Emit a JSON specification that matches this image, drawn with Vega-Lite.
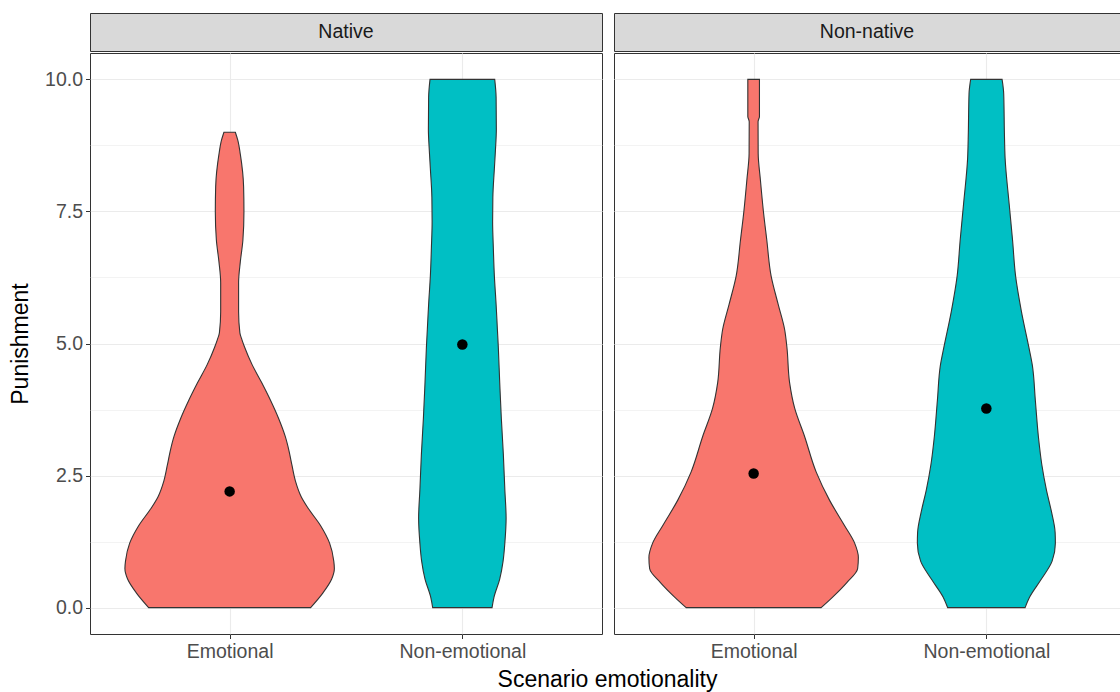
{
  "$schema": "https://vega.github.io/schema/vega-lite/v6.json",
  "padding": {"left": 8, "top": 12, "right": 0, "bottom": 0},
  "background": "white",
  "spacing": 10,
  "config": {
    "font": "Liberation Sans",
    "view": {"stroke": "#333333", "strokeWidth": 1},
    "axis": {"labelFont": "Liberation Sans", "labelFontSize": 19.5, "labelColor": "#4D4D4D", "tickColor": "#333333", "tickWidth": 1, "tickSize": 4.5, "domain": false, "gridColor": "#EBEBEB", "gridWidth": 1.1, "titleFont": "Liberation Sans", "titleFontWeight": "normal", "titleColor": "black", "titleFontSize": 23}
  },
  "datasets": {
    "violins": [
      {"panel": "Native", "cat": "Emotional", "v": 0.0, "w": 0.696},
      {"panel": "Native", "cat": "Emotional", "v": 0.27, "w": 0.799},
      {"panel": "Native", "cat": "Emotional", "v": 0.54, "w": 0.877},
      {"panel": "Native", "cat": "Emotional", "v": 0.74, "w": 0.9},
      {"panel": "Native", "cat": "Emotional", "v": 0.88, "w": 0.895},
      {"panel": "Native", "cat": "Emotional", "v": 1.22, "w": 0.859},
      {"panel": "Native", "cat": "Emotional", "v": 1.55, "w": 0.782},
      {"panel": "Native", "cat": "Emotional", "v": 1.89, "w": 0.672},
      {"panel": "Native", "cat": "Emotional", "v": 2.1, "w": 0.615},
      {"panel": "Native", "cat": "Emotional", "v": 2.4, "w": 0.565},
      {"panel": "Native", "cat": "Emotional", "v": 2.7, "w": 0.535},
      {"panel": "Native", "cat": "Emotional", "v": 2.95, "w": 0.512},
      {"panel": "Native", "cat": "Emotional", "v": 3.24, "w": 0.478},
      {"panel": "Native", "cat": "Emotional", "v": 3.58, "w": 0.421},
      {"panel": "Native", "cat": "Emotional", "v": 3.92, "w": 0.352},
      {"panel": "Native", "cat": "Emotional", "v": 4.26, "w": 0.275},
      {"panel": "Native", "cat": "Emotional", "v": 4.6, "w": 0.193},
      {"panel": "Native", "cat": "Emotional", "v": 4.93, "w": 0.129},
      {"panel": "Native", "cat": "Emotional", "v": 5.07, "w": 0.106},
      {"panel": "Native", "cat": "Emotional", "v": 5.2, "w": 0.088},
      {"panel": "Native", "cat": "Emotional", "v": 5.6, "w": 0.077},
      {"panel": "Native", "cat": "Emotional", "v": 6.15, "w": 0.077},
      {"panel": "Native", "cat": "Emotional", "v": 6.55, "w": 0.092},
      {"panel": "Native", "cat": "Emotional", "v": 6.96, "w": 0.114},
      {"panel": "Native", "cat": "Emotional", "v": 7.5, "w": 0.123},
      {"panel": "Native", "cat": "Emotional", "v": 7.97, "w": 0.12},
      {"panel": "Native", "cat": "Emotional", "v": 8.58, "w": 0.092},
      {"panel": "Native", "cat": "Emotional", "v": 8.85, "w": 0.07},
      {"panel": "Native", "cat": "Emotional", "v": 9.0, "w": 0.049},

      {"panel": "Native", "cat": "Non-emotional", "v": 0.0, "w": 0.255},
      {"panel": "Native", "cat": "Non-emotional", "v": 0.2, "w": 0.272},
      {"panel": "Native", "cat": "Non-emotional", "v": 0.54, "w": 0.321},
      {"panel": "Native", "cat": "Non-emotional", "v": 0.88, "w": 0.35},
      {"panel": "Native", "cat": "Non-emotional", "v": 1.22, "w": 0.365},
      {"panel": "Native", "cat": "Non-emotional", "v": 1.69, "w": 0.376},
      {"panel": "Native", "cat": "Non-emotional", "v": 2.23, "w": 0.365},
      {"panel": "Native", "cat": "Non-emotional", "v": 2.91, "w": 0.352},
      {"panel": "Native", "cat": "Non-emotional", "v": 3.58, "w": 0.335},
      {"panel": "Native", "cat": "Non-emotional", "v": 4.26, "w": 0.321},
      {"panel": "Native", "cat": "Non-emotional", "v": 4.93, "w": 0.309},
      {"panel": "Native", "cat": "Non-emotional", "v": 5.27, "w": 0.301},
      {"panel": "Native", "cat": "Non-emotional", "v": 5.74, "w": 0.29},
      {"panel": "Native", "cat": "Non-emotional", "v": 6.28, "w": 0.275},
      {"panel": "Native", "cat": "Non-emotional", "v": 6.82, "w": 0.266},
      {"panel": "Native", "cat": "Non-emotional", "v": 7.3, "w": 0.26},
      {"panel": "Native", "cat": "Non-emotional", "v": 7.77, "w": 0.262},
      {"panel": "Native", "cat": "Non-emotional", "v": 8.31, "w": 0.275},
      {"panel": "Native", "cat": "Non-emotional", "v": 8.65, "w": 0.284},
      {"panel": "Native", "cat": "Non-emotional", "v": 9.05, "w": 0.292},
      {"panel": "Native", "cat": "Non-emotional", "v": 9.66, "w": 0.29},
      {"panel": "Native", "cat": "Non-emotional", "v": 10.0, "w": 0.278},

      {"panel": "Non-native", "cat": "Emotional", "v": 0.0, "w": 0.58},
      {"panel": "Non-native", "cat": "Emotional", "v": 0.2, "w": 0.679},
      {"panel": "Non-native", "cat": "Emotional", "v": 0.47, "w": 0.799},
      {"panel": "Non-native", "cat": "Emotional", "v": 0.74, "w": 0.894},
      {"panel": "Non-native", "cat": "Emotional", "v": 0.95, "w": 0.9},
      {"panel": "Non-native", "cat": "Emotional", "v": 1.22, "w": 0.868},
      {"panel": "Non-native", "cat": "Emotional", "v": 1.55, "w": 0.782},
      {"panel": "Non-native", "cat": "Emotional", "v": 2.03, "w": 0.653},
      {"panel": "Non-native", "cat": "Emotional", "v": 2.57, "w": 0.537},
      {"panel": "Non-native", "cat": "Emotional", "v": 3.24, "w": 0.438},
      {"panel": "Non-native", "cat": "Emotional", "v": 3.78, "w": 0.352},
      {"panel": "Non-native", "cat": "Emotional", "v": 4.26, "w": 0.309},
      {"panel": "Non-native", "cat": "Emotional", "v": 4.93, "w": 0.286},
      {"panel": "Non-native", "cat": "Emotional", "v": 5.27, "w": 0.266},
      {"panel": "Non-native", "cat": "Emotional", "v": 5.74, "w": 0.211},
      {"panel": "Non-native", "cat": "Emotional", "v": 6.28, "w": 0.15},
      {"panel": "Non-native", "cat": "Emotional", "v": 6.96, "w": 0.113},
      {"panel": "Non-native", "cat": "Emotional", "v": 7.5, "w": 0.084},
      {"panel": "Non-native", "cat": "Emotional", "v": 8.1, "w": 0.058},
      {"panel": "Non-native", "cat": "Emotional", "v": 8.6, "w": 0.039},
      {"panel": "Non-native", "cat": "Emotional", "v": 9.2, "w": 0.038},
      {"panel": "Non-native", "cat": "Emotional", "v": 9.3, "w": 0.05},
      {"panel": "Non-native", "cat": "Emotional", "v": 10.0, "w": 0.05},

      {"panel": "Non-native", "cat": "Non-emotional", "v": 0.0, "w": 0.333},
      {"panel": "Non-native", "cat": "Non-emotional", "v": 0.2, "w": 0.372},
      {"panel": "Non-native", "cat": "Non-emotional", "v": 0.54, "w": 0.473},
      {"panel": "Non-native", "cat": "Non-emotional", "v": 0.88, "w": 0.565},
      {"panel": "Non-native", "cat": "Non-emotional", "v": 1.22, "w": 0.593},
      {"panel": "Non-native", "cat": "Non-emotional", "v": 1.42, "w": 0.591},
      {"panel": "Non-native", "cat": "Non-emotional", "v": 1.82, "w": 0.559},
      {"panel": "Non-native", "cat": "Non-emotional", "v": 2.23, "w": 0.516},
      {"panel": "Non-native", "cat": "Non-emotional", "v": 2.7, "w": 0.477},
      {"panel": "Non-native", "cat": "Non-emotional", "v": 3.24, "w": 0.447},
      {"panel": "Non-native", "cat": "Non-emotional", "v": 3.92, "w": 0.421},
      {"panel": "Non-native", "cat": "Non-emotional", "v": 4.59, "w": 0.395},
      {"panel": "Non-native", "cat": "Non-emotional", "v": 4.93, "w": 0.365},
      {"panel": "Non-native", "cat": "Non-emotional", "v": 5.61, "w": 0.301},
      {"panel": "Non-native", "cat": "Non-emotional", "v": 6.28, "w": 0.251},
      {"panel": "Non-native", "cat": "Non-emotional", "v": 6.96, "w": 0.225},
      {"panel": "Non-native", "cat": "Non-emotional", "v": 7.64, "w": 0.196},
      {"panel": "Non-native", "cat": "Non-emotional", "v": 8.51, "w": 0.161},
      {"panel": "Non-native", "cat": "Non-emotional", "v": 8.99, "w": 0.155},
      {"panel": "Non-native", "cat": "Non-emotional", "v": 9.73, "w": 0.149},
      {"panel": "Non-native", "cat": "Non-emotional", "v": 10.0, "w": 0.135}
    ],
    "means": [
      {"panel": "Native", "cat": "Emotional", "mean": 2.2},
      {"panel": "Native", "cat": "Non-emotional", "mean": 4.98},
      {"panel": "Non-native", "cat": "Emotional", "mean": 2.54},
      {"panel": "Non-native", "cat": "Non-emotional", "mean": 3.77}
    ]
  },
  "title": {"text": "Scenario emotionality", "orient": "bottom", "anchor": "middle", "fontSize": 23, "fontWeight": "normal", "color": "black", "font": "Liberation Sans", "offset": 7, "dx": 40},
  "hconcat": [
    {
      "spacing": 0,
      "vconcat": [
        {
          "width": 512, "height": 38,
          "view": {"fill": "#D9D9D9", "stroke": "#333333"},
          "data": {"values": [{"panel": "Native"}]},
          "mark": {"type": "text", "fontSize": 19.5, "color": "#1A1A1A", "font": "Liberation Sans"},
          "encoding": {"text": {"field": "panel", "type": "nominal"}}
        },
        {
          "width": 512, "height": 581,
          "layer": [
            {
              "data": {"name": "violins"},
              "transform": [
                {"stack": "w", "groupby": ["panel", "cat", "v"], "offset": "center", "as": ["w0", "w1"]},
                {"filter": "datum.panel === 'Native' && datum.cat === 'Emotional'"}
              ],
              "mark": {"type": "area", "orient": "horizontal", "interpolate": "monotone", "fill": "#F8766D", "fillOpacity": 1, "stroke": "#333333", "strokeWidth": 1.1},
              "encoding": {
                "y": {"field": "v", "type": "quantitative", "scale": {"domain": [-0.5, 10.5], "nice": false, "zero": false},
                  "axis": {
                    "title": "Punishment", "titlePadding": 12,
                    "values": [0, 1.25, 2.5, 3.75, 5, 6.25, 7.5, 8.75, 10],
                    "labelExpr": "datum.value % 2.5 === 0 ? format(datum.value, '.1f') : ''",
                    "labelOverlap": false, "labelFlush": false, "labelPadding": 3,
                    "tickOpacity": {"condition": {"test": "datum.value % 2.5 !== 0", "value": 0}, "value": 1},
                    "gridWidth": {"condition": {"test": "datum.value % 2.5 !== 0", "value": 0.6}, "value": 1.1},
                    "minExtent": 46, "maxExtent": 46
                  }},
                "x": {"field": "w0", "type": "quantitative", "scale": {"domain": [-0.15, 2.05], "nice": false, "zero": false}, "axis": null},
                "x2": {"field": "w1"}
              }
            },
            {
              "data": {"name": "violins"},
              "transform": [
                {"stack": "w", "groupby": ["panel", "cat", "v"], "offset": "center", "as": ["w0", "w1"]},
                {"filter": "datum.panel === 'Native' && datum.cat === 'Non-emotional'"}
              ],
              "mark": {"type": "area", "orient": "horizontal", "interpolate": "monotone", "fill": "#00BFC4", "fillOpacity": 1, "stroke": "#333333", "strokeWidth": 1.1},
              "encoding": {
                "y": {"field": "v", "type": "quantitative"},
                "x": {"field": "w0", "type": "quantitative", "scale": {"domain": [-1.15, 1.05], "nice": false, "zero": false}, "axis": null},
                "x2": {"field": "w1"}
              }
            },
            {
              "data": {"name": "means"},
              "transform": [{"filter": "datum.panel === 'Native'"}],
              "mark": {"type": "circle", "size": 110, "color": "black", "opacity": 1},
              "encoding": {
                "y": {"field": "mean", "type": "quantitative"},
                "x": {"field": "cat", "type": "nominal", "scale": {"type": "point", "padding": 0.6, "domain": ["Emotional", "Non-emotional"]},
                  "axis": {"title": null, "labelAngle": 0, "grid": true, "labelPadding": 4}}
              }
            }
          ],
          "resolve": {"scale": {"x": "independent"}, "axis": {"x": "independent"}}
        }
      ]
    },
    {
      "spacing": 0,
      "vconcat": [
        {
          "width": 506, "height": 38,
          "view": {"fill": "#D9D9D9", "stroke": "#333333"},
          "data": {"values": [{"panel": "Non-native"}]},
          "mark": {"type": "text", "fontSize": 19.5, "color": "#1A1A1A", "font": "Liberation Sans"},
          "encoding": {"text": {"field": "panel", "type": "nominal"}}
        },
        {
          "width": 506, "height": 581,
          "layer": [
            {
              "data": {"name": "violins"},
              "transform": [
                {"stack": "w", "groupby": ["panel", "cat", "v"], "offset": "center", "as": ["w0", "w1"]},
                {"filter": "datum.panel === 'Non-native' && datum.cat === 'Emotional'"}
              ],
              "mark": {"type": "area", "orient": "horizontal", "interpolate": "monotone", "fill": "#F8766D", "fillOpacity": 1, "stroke": "#333333", "strokeWidth": 1.1},
              "encoding": {
                "y": {"field": "v", "type": "quantitative", "scale": {"domain": [-0.5, 10.5], "nice": false, "zero": false},
                  "axis": {
                    "title": null, "labels": false, "ticks": false,
                    "values": [0, 1.25, 2.5, 3.75, 5, 6.25, 7.5, 8.75, 10],
                    "gridWidth": {"condition": {"test": "datum.value % 2.5 !== 0", "value": 0.6}, "value": 1.1},
                    "minExtent": 0, "maxExtent": 0
                  }},
                "x": {"field": "w0", "type": "quantitative", "scale": {"domain": [-0.15, 2.05], "range": [0, 512], "nice": false, "zero": false}, "axis": null},
                "x2": {"field": "w1"}
              }
            },
            {
              "data": {"name": "violins"},
              "transform": [
                {"stack": "w", "groupby": ["panel", "cat", "v"], "offset": "center", "as": ["w0", "w1"]},
                {"filter": "datum.panel === 'Non-native' && datum.cat === 'Non-emotional'"}
              ],
              "mark": {"type": "area", "orient": "horizontal", "interpolate": "monotone", "fill": "#00BFC4", "fillOpacity": 1, "stroke": "#333333", "strokeWidth": 1.1},
              "encoding": {
                "y": {"field": "v", "type": "quantitative"},
                "x": {"field": "w0", "type": "quantitative", "scale": {"domain": [-1.15, 1.05], "range": [0, 512], "nice": false, "zero": false}, "axis": null},
                "x2": {"field": "w1"}
              }
            },
            {
              "data": {"name": "means"},
              "transform": [{"filter": "datum.panel === 'Non-native'"}],
              "mark": {"type": "circle", "size": 110, "color": "black", "opacity": 1},
              "encoding": {
                "y": {"field": "mean", "type": "quantitative"},
                "x": {"field": "cat", "type": "nominal", "scale": {"type": "point", "padding": 0.6, "range": [0, 512], "domain": ["Emotional", "Non-emotional"]},
                  "axis": {"title": null, "labelAngle": 0, "grid": true, "labelPadding": 4}}
              }
            }
          ],
          "resolve": {"scale": {"x": "independent"}, "axis": {"x": "independent"}}
        }
      ]
    }
  ]
}
